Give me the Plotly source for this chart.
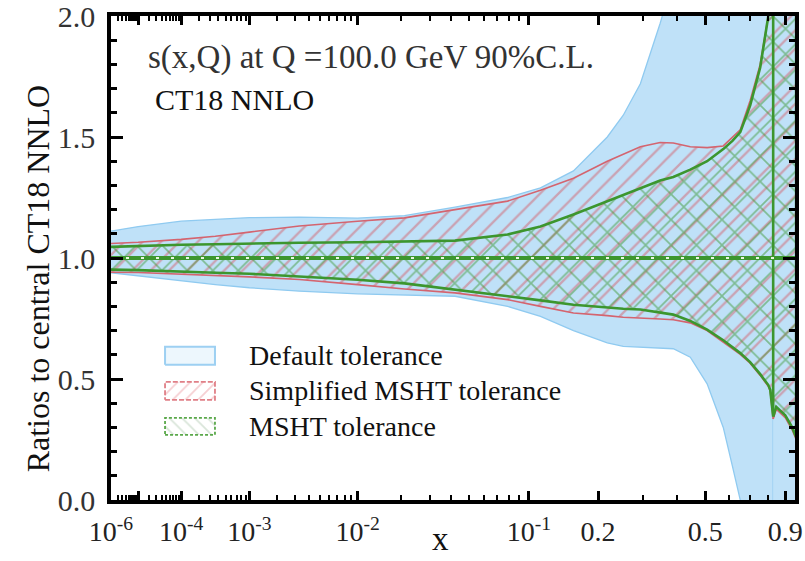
import numpy as np
import plotly.graph_objects as go

# ---------------- data ----------------
X_POWER = 0.2  # horizontal axis is drawn on an x**0.2 scale

# segment before the sign change of the central PDF
x_a = [1e-6, 1e-5, 1e-4, 3.6e-4, 1e-3, 3.3e-3, 1e-2, 0.021, 0.042, 0.079, 0.113,
       0.158, 0.218, 0.252, 0.293, 0.347, 0.387, 0.444, 0.507, 0.574, 0.615,
       0.652, 0.701, 0.754, 0.799, 0.81, 0.827]
blue_up_a = [1.111, 1.13, 1.152, 1.16, 1.167, 1.169, 1.165, 1.175, 1.21, 1.25, 1.29,
             1.36, 1.50, 1.59, 1.72, 1.97, 2.15, 2.4, 2.7, 3.0, 3.1,
             3.2, 3.3, 3.4, 3.5, 3.5, 3.5]
blue_lo_a = [0.939, 0.925, 0.905, 0.89, 0.877, 0.863, 0.852, 0.847, 0.842, 0.80, 0.759,
             0.70, 0.649, 0.635, 0.63, 0.628, 0.625, 0.59, 0.48, 0.30, 0.14,
             0.0, -0.3, -0.6, -0.9, -1.0, -1.2]
red_up_a = [1.06, 1.065, 1.077, 1.09, 1.107, 1.132, 1.152, 1.166, 1.20, 1.235, 1.28,
            1.33, 1.40, 1.43, 1.46, 1.477, 1.475, 1.46, 1.456, 1.463, 1.50,
            1.53, 1.65, 1.80, 2.0, 2.1, 3.5]
red_lo_a = [0.941, 0.94, 0.935, 0.928, 0.922, 0.911, 0.89, 0.872, 0.856, 0.828, 0.80,
            0.773, 0.762, 0.755, 0.752, 0.748, 0.745, 0.732, 0.70, 0.655, 0.625,
            0.602, 0.565, 0.515, 0.47, 0.45, 0.335]
green_up_a = [1.046, 1.05, 1.055, 1.057, 1.06, 1.063, 1.065, 1.068, 1.072, 1.097, 1.13,
              1.18, 1.235, 1.263, 1.29, 1.32, 1.335, 1.365, 1.40, 1.45, 1.484,
              1.52, 1.63, 1.787, 2.0, 2.1, 3.5]
green_lo_a = [0.952, 0.95, 0.945, 0.939, 0.935, 0.925, 0.91, 0.895, 0.872, 0.842, 0.825,
              0.807, 0.795, 0.79, 0.787, 0.775, 0.766, 0.74, 0.704, 0.66, 0.632,
              0.607, 0.57, 0.52, 0.475, 0.455, 0.345]

# segment after the sign change
x_b = [0.827, 0.845, 0.9, 0.944, 0.97]
blue_up_b = [3.5, 3.5, 3.5, 3.5, 3.5]
blue_lo_b = [-1.2, -1.2, -1.2, -1.2, -1.2]
red_up_b = [3.5, 3.3, 2.9, 2.6, 2.5]
red_lo_b = [0.335, 0.375, 0.34, 0.29, 0.25]
green_up_b = [3.5, 3.2, 2.8, 2.5, 2.4]
green_lo_b = [0.345, 0.385, 0.35, 0.30, 0.26]

x_central = [1e-6, 0.97]
central = [1.0, 1.0]

x_major = [1e-6, 1e-5, 1e-4, 1e-3, 1e-2, 0.1, 0.2, 0.5, 0.9]
x_major_text = ["10<sup>-6</sup>", "", "10<sup>-4</sup>", "10<sup>-3</sup>",
                "10<sup>-2</sup>", "10<sup>-1</sup>", "0.2", "0.5", "0.9"]
x_minor = [m * 10.0 ** k for k in range(-6, -1) for m in range(2, 10)] + [0.3, 0.4, 0.6, 0.7, 0.8]
x_range = [1e-6, 0.9625]

y_major = [0.0, 0.5, 1.0, 1.5, 2.0]
y_major_text = ["0.0", "0.5", "1.0", "1.5", "2.0"]

legend_labels = ["Default tolerance", "Simplified MSHT tolerance", "MSHT tolerance"]

# ---------------- styling ----------------
FONT = "Liberation Serif"
BLUE_FILL = "#bfe1f8"
BLUE_LINE = "#8fcaf0"
RED = "#d4646f"
GREEN = "#3c962e"


def u(v):
    return (np.asarray(v, dtype=float)) ** X_POWER


def band(xv, up, lo):
    xs = np.concatenate([u(xv), u(xv)[::-1]])
    ys = np.concatenate([np.asarray(up), np.asarray(lo)[::-1]])
    return xs, ys


fig = go.Figure()

# blue: default tolerance
for xv, up, lo in [(x_a, blue_up_a, blue_lo_a), (x_b, blue_up_b, blue_lo_b)]:
    xs, ys = band(xv, up, lo)
    fig.add_trace(go.Scatter(x=xs, y=ys, mode="lines", fill="toself",
                             fillcolor=BLUE_FILL, line=dict(color=BLUE_LINE, width=1.3),
                             hoverinfo="skip", showlegend=False))

# red: simplified MSHT tolerance (hatched)
for xv, up, lo in [(x_a, red_up_a, red_lo_a), (x_b, red_up_b, red_lo_b)]:
    xs, ys = band(xv, up, lo)
    fig.add_trace(go.Scatter(x=xs, y=ys, mode="lines", fill="toself",
                             fillcolor="rgba(0,0,0,0)",
                             fillpattern=dict(shape="/", size=13, solidity=0.18,
                                              fgcolor=RED, bgcolor="rgba(0,0,0,0)"),
                             line=dict(color=RED, width=1.6),
                             hoverinfo="skip", showlegend=False))

# green: MSHT tolerance (cross-hatched)
for xv, up, lo in [(x_a, green_up_a, green_lo_a), (x_b, green_up_b, green_lo_b)]:
    xs, ys = band(xv, up, lo)
    fig.add_trace(go.Scatter(x=xs, y=ys, mode="lines", fill="toself",
                             fillcolor="rgba(0,0,0,0)",
                             fillpattern=dict(shape="x", size=18, solidity=0.18,
                                              fgcolor=GREEN, bgcolor="rgba(0,0,0,0)"),
                             line=dict(color=GREEN, width=2.6),
                             hoverinfo="skip", showlegend=False))

# central line
fig.add_trace(go.Scatter(x=u(x_central), y=central, mode="lines",
                         line=dict(color=GREEN, width=4), hoverinfo="skip", showlegend=False))
fig.add_trace(go.Scatter(x=u(x_central), y=central, mode="lines",
                         line=dict(color="#e8f5e0", width=2, dash="3px,12px"),
                         hoverinfo="skip", showlegend=False))

# ---------------- legend keys (own overlay axes, plot-area fractions) ----------------
key_x0, key_x1 = 0.079, 0.152
key_rows = [(0.2795, 0.3168), (0.207, 0.244), (0.1346, 0.1698)]
key_styles = [
    dict(fillcolor="rgba(225,242,252,0.6)", line=dict(color="#9dd0f2", width=2)),
    dict(fillcolor="rgba(0,0,0,0)",
         fillpattern=dict(shape="/", size=9, solidity=0.2, fgcolor="#eea0a6",
                          bgcolor="rgba(0,0,0,0)"),
         line=dict(color="#e07f86", width=1.8, dash="5px,2px")),
    dict(fillcolor="rgba(0,0,0,0)",
         fillpattern=dict(shape="\\", size=9, solidity=0.2, fgcolor="#b4ccb4",
                          bgcolor="rgba(0,0,0,0)"),
         line=dict(color="#5aa84a", width=1.8, dash="3px,2px")),
]
for (y0, y1), st in zip(key_rows, key_styles):
    fig.add_trace(go.Scatter(x=[key_x0, key_x1, key_x1, key_x0, key_x0],
                             y=[y0, y0, y1, y1, y0], mode="lines", fill="toself",
                             xaxis="x2", yaxis="y2", hoverinfo="skip", showlegend=False,
                             **st))

annotations = []
for (y0, y1), label in zip(key_rows, legend_labels):
    annotations.append(dict(x=0.199, y=(y0 + y1) / 2, xref="paper", yref="paper",
                            text=label, showarrow=False, xanchor="left", yanchor="middle",
                            font=dict(family=FONT, size=28, color="#111111")))

annotations += [
    dict(x=0.051, y=0.915, xref="paper", yref="paper", showarrow=False,
         text="s(x,Q) at Q =100.0 GeV 90%C.L.", xanchor="left", yanchor="middle",
         font=dict(family=FONT, size=33, color="#333333")),
    dict(x=0.062, y=0.828, xref="paper", yref="paper", showarrow=False,
         text="CT18 NNLO", xanchor="left", yanchor="middle",
         font=dict(family=FONT, size=30, color="#111111")),
    dict(x=-0.107, y=0.4576, xref="paper", yref="paper", showarrow=False,
         text="Ratios to central CT18 NNLO", textangle=-90,
         xanchor="center", yanchor="middle",
         font=dict(family=FONT, size=32, color="#111111")),
    dict(x=0.481, y=-0.122, xref="paper", yref="paper", showarrow=False,
         text="x", xanchor="center", yanchor="bottom",
         font=dict(family=FONT, size=33, color="#111111")),
]

axis_common = dict(showgrid=False, zeroline=False, showline=True, linecolor="black",
                   linewidth=3.5, mirror="ticks", ticks="inside", tickcolor="black",
                   tickwidth=2.5, layer="above traces", automargin=False,
                   ticklabeloverflow="allow")

fig.update_layout(
    width=805, height=561,
    margin=dict(l=111, r=10, t=16, b=61, autoexpand=False),
    paper_bgcolor="white", plot_bgcolor="white",
    showlegend=False,
    xaxis=dict(range=list(u(x_range)), tickmode="array", tickvals=list(u(x_major)),
               ticktext=x_major_text, ticklen=9,
               tickfont=dict(family=FONT, size=28, color="#222222"),
               ticklabelstandoff=4,
               minor=dict(tickmode="array", tickvals=list(u(x_minor)), ticklen=5,
                          tickwidth=2, tickcolor="black", ticks="inside"),
               **axis_common),
    yaxis=dict(range=[0, 2], tickmode="array", tickvals=y_major, ticktext=y_major_text,
               ticklen=12, tickfont=dict(family=FONT, size=30, color="#333333"),
               ticklabelstandoff=6,
               minor=dict(dtick=0.1, ticklen=6, tickwidth=2.5, tickcolor="black",
                          ticks="inside"),
               **axis_common),
    xaxis2=dict(range=[0, 1], overlaying="x", visible=False, fixedrange=True),
    yaxis2=dict(range=[0, 1], overlaying="y", visible=False, fixedrange=True),
    annotations=annotations,
)

fig.write_html("out.html")
